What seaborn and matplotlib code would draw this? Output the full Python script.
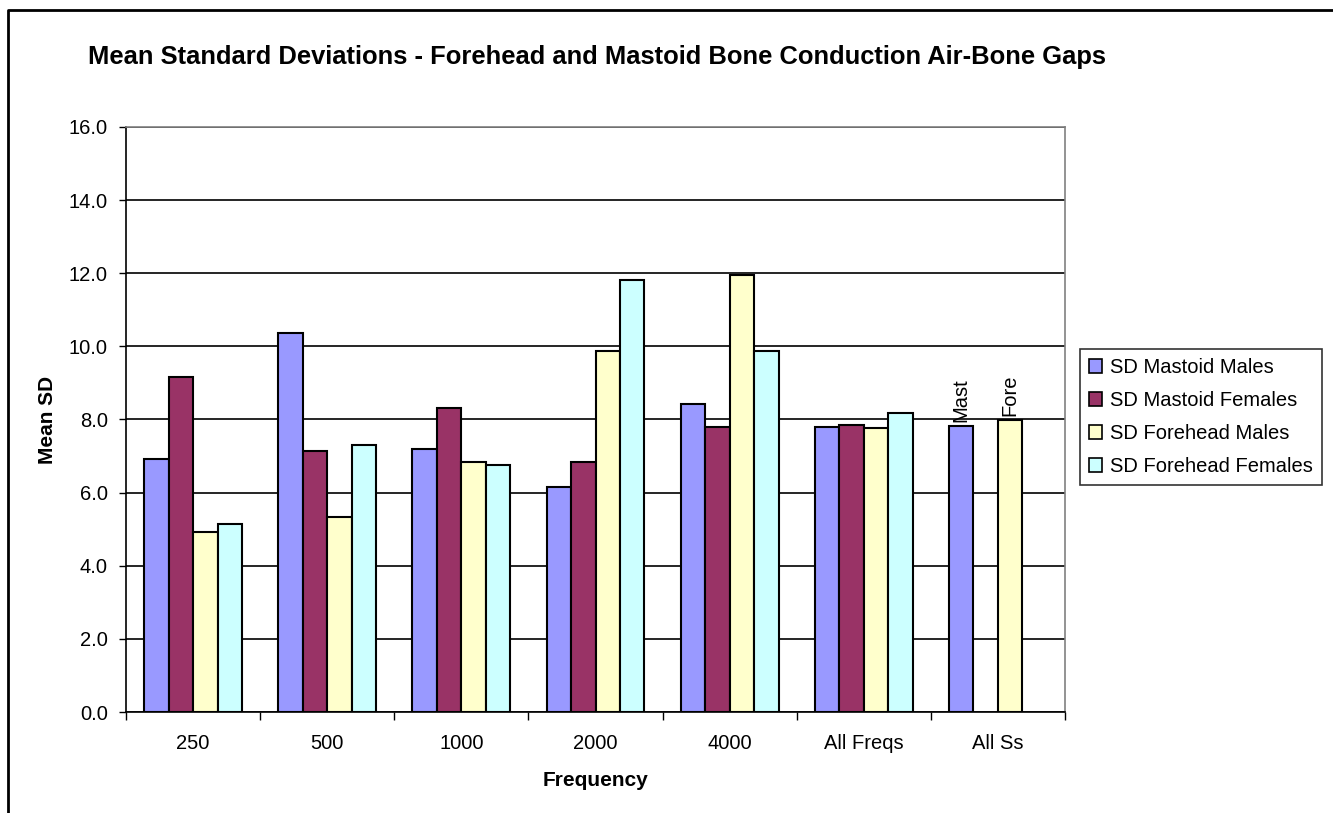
import matplotlib
matplotlib.use("Agg")
import matplotlib.pyplot as plt
from matplotlib.lines import Line2D
from matplotlib.ticker import FormatStrFormatter, FixedLocator
import numpy as np
import pandas as pd
import seaborn as sns

# Frequencies (groups) and mean SD per condition
frequencies = ["250", "500", "1000", "2000", "4000", "All Freqs", "All Ss"]
series_names = ["SD Mastoid Males", "SD Mastoid Females",
                "SD Forehead Males", "SD Forehead Females"]
sd_mastoid_males = [6.92, 10.36, 7.19, 6.16, 8.42, 7.80, 7.81]
sd_mastoid_females = [9.15, 7.15, 8.31, 6.84, 7.80, 7.86, None]
sd_forehead_males = [4.91, 5.33, 6.84, 9.87, 11.96, 7.77, 7.99]
sd_forehead_females = [5.14, 7.29, 6.75, 11.82, 9.87, 8.17, None]
all_ss_labels = ["Mast", None, "Fore", None]
colors = ["#9999FF", "#993366", "#FFFFCC", "#CCFFFF"]

rows = []
for name, vals in zip(series_names, [sd_mastoid_males, sd_mastoid_females,
                                     sd_forehead_males, sd_forehead_females]):
    for f, v in zip(frequencies, vals):
        if v is not None:
            rows.append({"Frequency": f, "Series": name, "SD": v})
df = pd.DataFrame(rows)

sns.set_style("white")
plt.rcParams["font.family"] = ["Liberation Sans", "DejaVu Sans"]
plt.rcParams.update({"text.color": "black", "axes.labelcolor": "black",
                     "xtick.color": "black", "ytick.color": "black"})

W, H = 1333, 813
fig = plt.figure(figsize=(W / 100, H / 100), dpi=100)
ax = fig.add_axes([126 / W, 1 - 712 / H, (1065 - 126) / W, (712 - 127) / H])

sns.barplot(data=df, x="Frequency", y="SD", hue="Series",
            order=frequencies, hue_order=series_names, palette=colors,
            saturation=1, width=0.73, edgecolor="black", linewidth=1.5,
            errorbar=None, ax=ax, legend=True)

# Rotated labels above the "All Ss" bars
for cont, lab in zip(ax.containers, all_ss_labels):
    if lab is None:
        continue
    texts = []
    for bar in cont:
        cx = bar.get_x() + bar.get_width() / 2
        texts.append(lab if abs(cx - 6) < 0.5 else "")
    ax.bar_label(cont, labels=texts, rotation=90, padding=3, fontsize=14.5)

ax.set_ylim(0, 16)
ax.set_xlim(-0.5, len(frequencies) - 0.5)
ax.yaxis.set_major_locator(FixedLocator(np.arange(0, 16.1, 2)))
ax.yaxis.set_major_formatter(FormatStrFormatter("%.1f"))
ax.yaxis.grid(True, color="black", linewidth=1.2)
ax.set_axisbelow(True)

ax.tick_params(axis="y", direction="out", length=5, width=1, pad=8,
               labelsize=14.5, left=True)
ax.tick_params(axis="x", which="major", length=0, pad=16, labelsize=14.5)
ax.set_xticks(np.arange(-0.5, len(frequencies), 1), minor=True)
ax.tick_params(axis="x", which="minor", direction="out", length=6, width=1,
               bottom=True)

for side in ["top", "right"]:
    ax.spines[side].set_color("#808080")
    ax.spines[side].set_linewidth(1.2)
for side in ["left", "bottom"]:
    ax.spines[side].set_color("black")
    ax.spines[side].set_linewidth(1.2)

ax.set_xlabel("Frequency", fontsize=15, fontweight="bold")
ax.set_ylabel("Mean SD", fontsize=15, fontweight="bold")
ax.xaxis.set_label_coords(0.5, -0.101)
ax.yaxis.set_label_coords(-0.074, 0.5)

fig.text(88 / W, 1 - 57 / H,
         "Mean Standard Deviations - Forehead and Mastoid Bone Conduction Air-Bone Gaps",
         fontsize=18.4, fontweight="bold", ha="left", va="center")

leg = ax.legend(loc="center left", bbox_to_anchor=(1080 / W, 1 - 417 / H),
                bbox_transform=fig.transFigure, fontsize=14.5, frameon=True,
                fancybox=False, edgecolor="black", handlelength=0.65,
                handleheight=0.65, handletextpad=0.4, labelspacing=0.7,
                borderpad=0.45, borderaxespad=0)
leg.get_frame().set_linewidth(1.2)
for h in leg.legend_handles:
    h.set_edgecolor("black")
    h.set_linewidth(1.2)

# Outer chart frame (left and top edges)
fig.add_artist(Line2D([8 / W, 8 / W, 1], [0, 1 - 10 / H, 1 - 10 / H],
                      transform=fig.transFigure, color="black", linewidth=2))

fig.savefig("out.png", dpi=100, facecolor="white")
